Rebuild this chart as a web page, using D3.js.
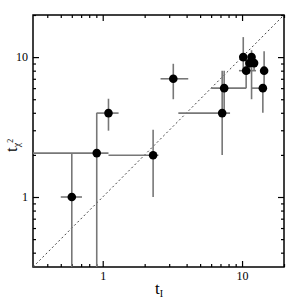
<!DOCTYPE html>
<html>
<head>
<meta charset="utf-8">
<script src="https://cdn.jsdelivr.net/npm/d3@7"></script>
<style>
  body { margin: 0; background: #fff; }
  svg { display: block; }
  .tick text { font-family: "Liberation Serif", "DejaVu Serif", serif; font-size: 12px; fill: #000; }
</style>
</head>
<body>
<svg id="chart"></svg>
<script>
// values (log-log, both axes)
const xVals = [0.60, 0.906, 1.10, 2.30, 3.21, 7.2, 7.44, 10.2, 11.7, 10.7, 11.3, 12.2, 14.4, 14.1];
const yVals = [1.0, 2.06, 3.98, 1.99, 7.0, 3.98, 6.0, 10.0, 10.0, 8.0, 9.06, 9.06, 8.0, 6.0];
const xLo   = [0.50, 0.1, 0.906, 1.10, 2.6, 3.49, 6.0, 10.2, 11.7, 9.5, 11.3, 12.2, 14.4, 11.7];
const xHi   = [0.71, 1.10, 1.30, 2.51, 4.11, 8.2, 10.7, 10.2, 11.7, 12.6, 11.3, 12.2, 14.4, 14.1];
const yLo   = [0.1, 0.1, 2.98, 1.0, 5.0, 2.0, 4.0, 8.1, 5.0, 6.0, 7.6, 8.0, 6.0, 4.0];
const yHi   = [2.04, 4.0, 5.04, 3.02, 8.96, 7.98, 8.0, 13.9, 11.2, 10.0, 9.06, 9.06, 11.0, 6.0];

const majorTicks = [1, 10];
const minorTicks = [0.4, 0.5, 0.6, 0.7, 0.8, 0.9, 2, 3, 4, 5, 6, 7, 8, 9, 20];
const domain = [0.316, 20];

function main() {
    const width = 300;
    const height = 300;
    const left = 33, right = 284, top = 15, bottom = 267;

    let svg = d3.select("#chart")
        .attr("width", width)
        .attr("height", height);

    const x = d3.scaleLog().domain(domain).range([left, right]);
    const y = d3.scaleLog().domain(domain).range([bottom, top]);

    svg.append("clipPath").attr("id", "plot")
        .append("rect")
        .attr("x", left).attr("y", top)
        .attr("width", right - left).attr("height", bottom - top);

    const fmt = d => d3.format("d")(d);

    // major ticks with labels, inward
    svg.append("g").attr("transform", `translate(0,${bottom})`)
        .call(d3.axisBottom(x).tickValues(majorTicks).tickFormat(fmt).tickSize(-6).tickPadding(4));
    svg.append("g").attr("transform", `translate(${left},0)`)
        .call(d3.axisLeft(y).tickValues(majorTicks).tickFormat(fmt).tickSize(-6).tickPadding(5));
    svg.append("g").attr("transform", `translate(0,${top})`)
        .call(d3.axisTop(x).tickValues(majorTicks).tickFormat("").tickSize(-6));
    svg.append("g").attr("transform", `translate(${right},0)`)
        .call(d3.axisRight(y).tickValues(majorTicks).tickFormat("").tickSize(-6));

    // minor ticks
    svg.append("g").attr("transform", `translate(0,${bottom})`)
        .call(d3.axisBottom(x).tickValues(minorTicks).tickFormat("").tickSize(-3));
    svg.append("g").attr("transform", `translate(${left},0)`)
        .call(d3.axisLeft(y).tickValues(minorTicks).tickFormat("").tickSize(-3));
    svg.append("g").attr("transform", `translate(0,${top})`)
        .call(d3.axisTop(x).tickValues(minorTicks).tickFormat("").tickSize(-3));
    svg.append("g").attr("transform", `translate(${right},0)`)
        .call(d3.axisRight(y).tickValues(minorTicks).tickFormat("").tickSize(-3));

    svg.selectAll(".domain").remove();
    svg.selectAll(".tick line").attr("stroke", "#000").attr("stroke-width", 1.2);

    // frame
    svg.append("rect")
        .attr("x", left).attr("y", top)
        .attr("width", right - left).attr("height", bottom - top)
        .attr("fill", "none").attr("stroke", "#000").attr("stroke-width", 1.5);

    let plot = svg.append("g").attr("clip-path", "url(#plot)");

    // y = x line
    plot.append("line")
        .attr("x1", x(domain[0])).attr("y1", y(domain[0]))
        .attr("x2", x(domain[1])).attr("y2", y(domain[1]))
        .attr("stroke", "#444").attr("stroke-width", 1)
        .attr("stroke-dasharray", "2,2.5");

    const idx = d3.range(xVals.length);

    // error bars
    plot.append("g").selectAll("line.xe")
        .data(idx)
        .join("line")
        .attr("x1", i => x(xLo[i])).attr("x2", i => x(xHi[i]))
        .attr("y1", i => y(yVals[i])).attr("y2", i => y(yVals[i]))
        .attr("stroke", "#777").attr("stroke-width", 1.6);
    plot.append("g").selectAll("line.ye")
        .data(idx)
        .join("line")
        .attr("x1", i => x(xVals[i])).attr("x2", i => x(xVals[i]))
        .attr("y1", i => y(yLo[i])).attr("y2", i => y(yHi[i]))
        .attr("stroke", "#777").attr("stroke-width", 1.6);

    // points
    plot.append("g").selectAll("circle")
        .data(idx)
        .join("circle")
        .attr("cx", i => x(xVals[i]))
        .attr("cy", i => y(yVals[i]))
        .attr("r", 4.3)
        .attr("fill", "#000");

    // axis titles
    svg.append("text")
        .attr("x", 155).attr("y", 294)
        .attr("font-family", "Liberation Serif, DejaVu Serif, serif")
        .attr("font-size", 17)
        .html('t<tspan font-size="10" dy="3">I</tspan>');

    svg.append("text")
        .attr("transform", "translate(17,152) rotate(-90)")
        .attr("font-family", "Liberation Serif, DejaVu Serif, serif")
        .attr("font-size", 17)
        .html('t<tspan font-size="10" dy="3">χ</tspan><tspan font-size="8" dy="-7">2</tspan>');
}

main();
</script>
</body>
</html>
